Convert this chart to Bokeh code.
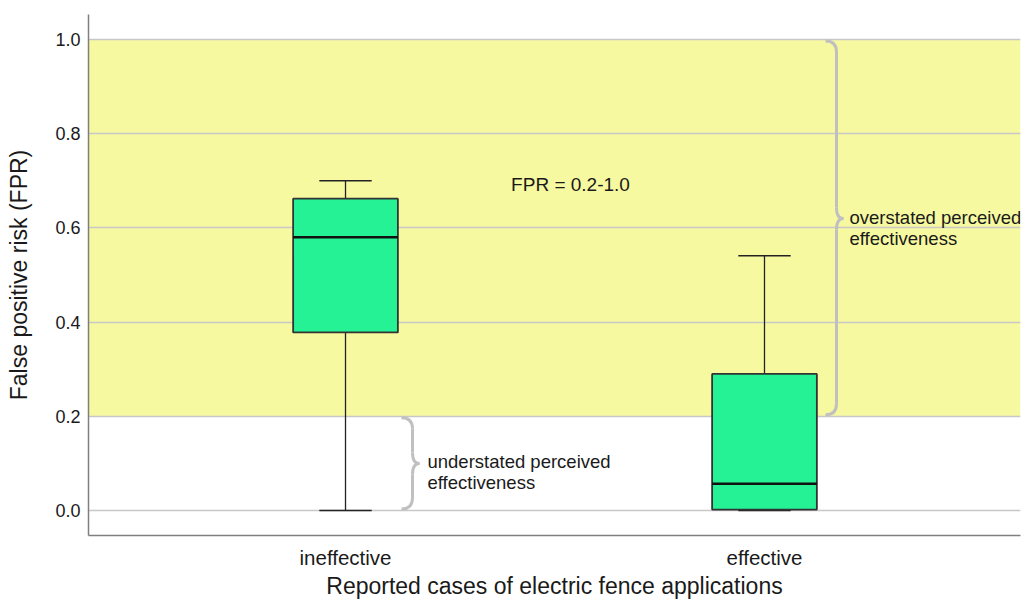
from bokeh.plotting import figure
from bokeh.models import (Range1d, FixedTicker, PrintfTickFormatter, BoxAnnotation,
                          ColumnDataSource)
from bokeh.core.properties import value
from bokeh.embed import file_html
from bokeh.resources import INLINE

# ---- data ----
categories = ["ineffective", "effective"]
lower_whisker = [0.0, 0.0]
q1 = [0.378, 0.002]
median = [0.580, 0.057]
q3 = [0.662, 0.290]
upper_whisker = [0.700, 0.541]
y_ticks = [0.0, 0.2, 0.4, 0.6, 0.8, 1.0]
band_low, band_high = 0.2, 1.0
band_label = "FPR = 0.2-1.0"
under_label = "understated perceived\neffectiveness"
over_label = "overstated perceived\neffectiveness"

FONT = "Liberation Sans"
xpos = [i + 1 for i in range(len(categories))]

p = figure(width=1022, height=601, output_backend="svg", toolbar_location=None,
           x_range=Range1d(0.3866, 2.611), y_range=Range1d(-0.053, 1.053))
p.min_border_left = 88
p.min_border_right = 2
p.min_border_top = 14
p.min_border_bottom = 66
p.outline_line_color = None
p.background_fill_color = "white"

# band
band = BoxAnnotation(bottom=band_low, top=band_high, fill_color="#f7f9a0",
                     fill_alpha=1.0, line_color=None, level="image")
p.add_layout(band)

# grid
p.xgrid.visible = False
p.ygrid.ticker = FixedTicker(ticks=y_ticks)
p.ygrid.grid_line_color = "#c8c8c8"
p.ygrid.grid_line_width = 1.3

# axes
p.yaxis.ticker = FixedTicker(ticks=y_ticks)
p.yaxis.formatter = PrintfTickFormatter(format="%.1f")
p.xaxis.ticker = FixedTicker(ticks=xpos)
p.xaxis.major_label_overrides = {x: c for x, c in zip(xpos, categories)}
for ax in (p.xaxis, p.yaxis):
    ax.major_tick_line_color = None
    ax.minor_tick_line_color = None
    ax.major_tick_out = 0
    ax.major_tick_in = 0
    ax.minor_tick_out = 0
    ax.axis_line_color = "#7f7f7f"
    ax.axis_line_width = 1.5
    ax.major_label_text_font = FONT
    ax.major_label_text_color = "#1a1a1a"
    ax.axis_label_text_font = FONT
    ax.axis_label_text_font_size = "23px"
    ax.axis_label_text_font_style = "normal"
    ax.axis_label_text_color = "#1a1a1a"
p.yaxis.major_label_text_font_size = "18px"
p.xaxis.major_label_text_font_size = "20.5px"
p.yaxis.axis_label = "False positive risk (FPR)"
p.xaxis.axis_label = "Reported cases of electric fence applications"
p.yaxis.major_label_standoff = 8
p.yaxis.axis_label_standoff = 20
p.xaxis.major_label_standoff = 10
p.xaxis.axis_label_standoff = 1

# boxplots
box_w = 0.25
cap_w = 0.125
src = ColumnDataSource(dict(x=xpos, q1=q1, q3=q3, med=median,
                            lo=lower_whisker, hi=upper_whisker))
p.segment(x0="x", y0="q3", x1="x", y1="hi", source=src, line_color="#222222", line_width=1.3)
p.segment(x0="x", y0="q1", x1="x", y1="lo", source=src, line_color="#222222", line_width=1.3)
cap_src = ColumnDataSource(dict(x0=[x - cap_w / 2 for x in xpos], x1=[x + cap_w / 2 for x in xpos],
                                lo=lower_whisker, hi=upper_whisker))
p.segment(x0="x0", y0="hi", x1="x1", y1="hi", source=cap_src, line_color="#222222", line_width=1.5)
p.segment(x0="x0", y0="lo", x1="x1", y1="lo", source=cap_src, line_color="#222222", line_width=1.5)
p.vbar(x="x", width=box_w, bottom="q1", top="q3", source=src,
       fill_color="#24f295", line_color="#333333", line_width=1.8)
med_src = ColumnDataSource(dict(x0=[x - box_w / 2 for x in xpos], x1=[x + box_w / 2 for x in xpos], med=median))
p.segment(x0="x0", y0="med", x1="x1", y1="med", source=med_src, line_color="#111111", line_width=2.5)

# braces
PX = 1 / 419.0   # data per pixel x
PY = 1 / 471.0   # data per pixel y


def brace(xs, y0, y1, ytip):
    w, r, t = 11 * PX, 11 * PY, 7 * PX
    y1 = y1 - 1.5 * PY
    y0 = y0 + 1.5 * PY
    quads = dict(
        x0=[xs - w, xs, xs + t, xs],
        y0=[y1, ytip + r, ytip, y0 + r],
        cx=[xs, xs, xs, xs],
        cy=[y1, ytip, ytip, y0],
        x1=[xs, xs + t, xs, xs - w],
        y1=[y1 - r, ytip, ytip - r, y0],
    )
    segs = dict(x0=[xs, xs], y0=[y1 - r, ytip - r], x1=[xs, xs], y1=[ytip + r, y0 + r])
    return quads, segs


for xs, y0, y1, yt in [(xpos[0] + 67 * PX, lower_whisker[0], band_low, 0.1),
                       (xpos[1] + 72 * PX, band_low, band_high, 0.62)]:
    qd, sg = brace(xs, y0, y1, yt)
    p.quadratic(x0="x0", y0="y0", x1="x1", y1="y1", cx="cx", cy="cy",
                source=ColumnDataSource(qd), line_color="#c0c0c0", line_width=3)
    p.segment(x0="x0", y0="y0", x1="x1", y1="y1",
              source=ColumnDataSource(sg), line_color="#c0c0c0", line_width=3)

# texts
p.text(x=[1.537], y=[0.692], text=[band_label], text_font=value(FONT),
       text_font_size="19px", text_align="center", text_baseline="middle", text_color="#1a1a1a")
p.text(x=[xpos[0] + 82 * PX], y=[0.081], text=[under_label], text_font=value(FONT),
       text_font_size="18.5px", text_align="left", text_baseline="middle", text_color="#1a1a1a",
       text_line_height=1.0)
p.text(x=[xpos[1] + 85 * PX], y=[0.60], text=[over_label], text_font=value(FONT),
       text_font_size="18.5px", text_align="left", text_baseline="middle", text_color="#1a1a1a",
       text_line_height=1.0)

open("out.html", "w").write(file_html(p, INLINE))
